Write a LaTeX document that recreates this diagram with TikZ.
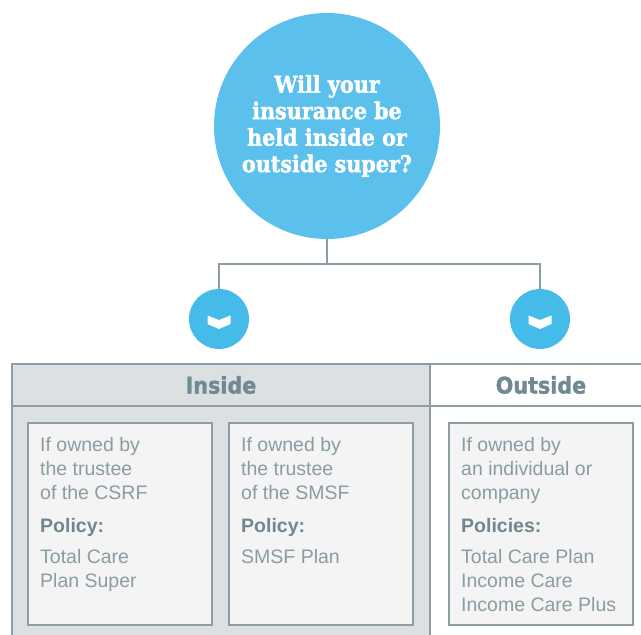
\documentclass[tikz,border=0pt]{standalone}
\usepackage{fontspec}
\setmainfont{Liberation Sans}
\newfontfamily\qfont[FakeBold=1.6]{DejaVu Serif Condensed}
\newfontfamily\hfont[FakeBold=1.4]{DejaVu Sans Condensed}
\definecolor{qblue}{HTML}{5CC0EC}
\definecolor{sblue}{HTML}{45BBEA}
\definecolor{lgray}{HTML}{8C9DA4}
\definecolor{panel}{HTML}{DCE0E3}
\definecolor{boxfill}{HTML}{F4F4F4}
\definecolor{htext}{HTML}{708993}
\definecolor{btext}{HTML}{8A9CA3}
\definecolor{bbold}{HTML}{718790}
\begin{document}
\begin{tikzpicture}[x=1pt,y=-1pt,
  conn/.style={draw=lgray, line width=1.5pt},
  qnode/.style={circle, fill=qblue, minimum size=226pt, inner sep=0pt, text=white,
    align=center, font=\qfont\bfseries\fontsize{23}{26.5}\selectfont},
  dot/.style={circle, fill=sblue, minimum size=60pt, inner sep=0pt},
  hdr/.style={font=\hfont\bfseries\fontsize{23}{26}\selectfont, text=htext},
  optbox/.style={draw=lgray, line width=1.5pt, fill=boxfill},
  ln/.style={anchor=base west, inner sep=0pt, text=btext, font=\fontsize{19.5}{24}\selectfont},
  lb/.style={anchor=base west, inner sep=0pt, text=bbold, font=\bfseries\fontsize{19.5}{24}\selectfont}
]
\useasboundingbox (0,0) rectangle (641,635);

% question circle
\node[qnode] (q) at (327,126) {Will your\\insurance be\\held inside or\\outside super?};

% connectors
\coordinate (j) at (327,264);
\coordinate (jl) at (219,264);
\coordinate (jr) at (540,264);
\node[dot] (dl) at (219,319) {};
\node[dot] (dr) at (540,319) {};
\draw[conn] (q.south) -- (j);
\draw[conn] (dl.north) -- (jl) -- (jr) -- (dr.north);

% chevrons
\foreach \c in {dl,dr}{
  \fill[white] ([shift={(-11.5,-3.5)}]\c.center) -- ([shift={(0,1)}]\c.center) -- ([shift={(11.5,-3.5)}]\c.center)
    -- ([shift={(11.5,5)}]\c.center) -- ([shift={(0,10)}]\c.center) -- ([shift={(-11.5,5)}]\c.center) -- cycle;
}

% table
\fill[panel] (12,364) rectangle (430,640);
\draw[conn] (12,640) -- (12,364) -- (641,364);
\draw[conn] (12,406) -- (641,406);
\draw[conn] (430,364) -- (430,640);
\node[hdr] (hin) at (221,385) {Inside};
\node[hdr] (hout) at (541,385) {Outside};

% option boxes
\draw[optbox] (28,423) rectangle (212,625);
\draw[optbox] (229,423) rectangle (413,625);
\draw[optbox] (449,423) rectangle (633,625);

% box 1
\node[ln] (a1) at (40,451) {If owned by};
\node[ln] (a2) at (40,475) {the trustee};
\node[ln] (a3) at (40,499) {of the CSRF};
\node[lb] (a4) at (40,532) {Policy:};
\node[ln] (a5) at (40,563) {Total Care};
\node[ln] (a6) at (40,587) {Plan Super};

% box 2
\node[ln] (b1) at (241,451) {If owned by};
\node[ln] (b2) at (241,475) {the trustee};
\node[ln] (b3) at (241,499) {of the SMSF};
\node[lb] (b4) at (241,532) {Policy:};
\node[ln] (b5) at (241,563) {SMSF Plan};

% box 3
\node[ln] (c1) at (461,451) {If owned by};
\node[ln] (c2) at (461,475) {an individual or};
\node[ln] (c3) at (461,499) {company};
\node[lb] (c4) at (461,532) {Policies:};
\node[ln] (c5) at (461,563) {Total Care Plan};
\node[ln] (c6) at (461,587) {Income Care};
\node[ln] (c7) at (461,611) {Income Care Plus};
\end{tikzpicture}
\end{document}
